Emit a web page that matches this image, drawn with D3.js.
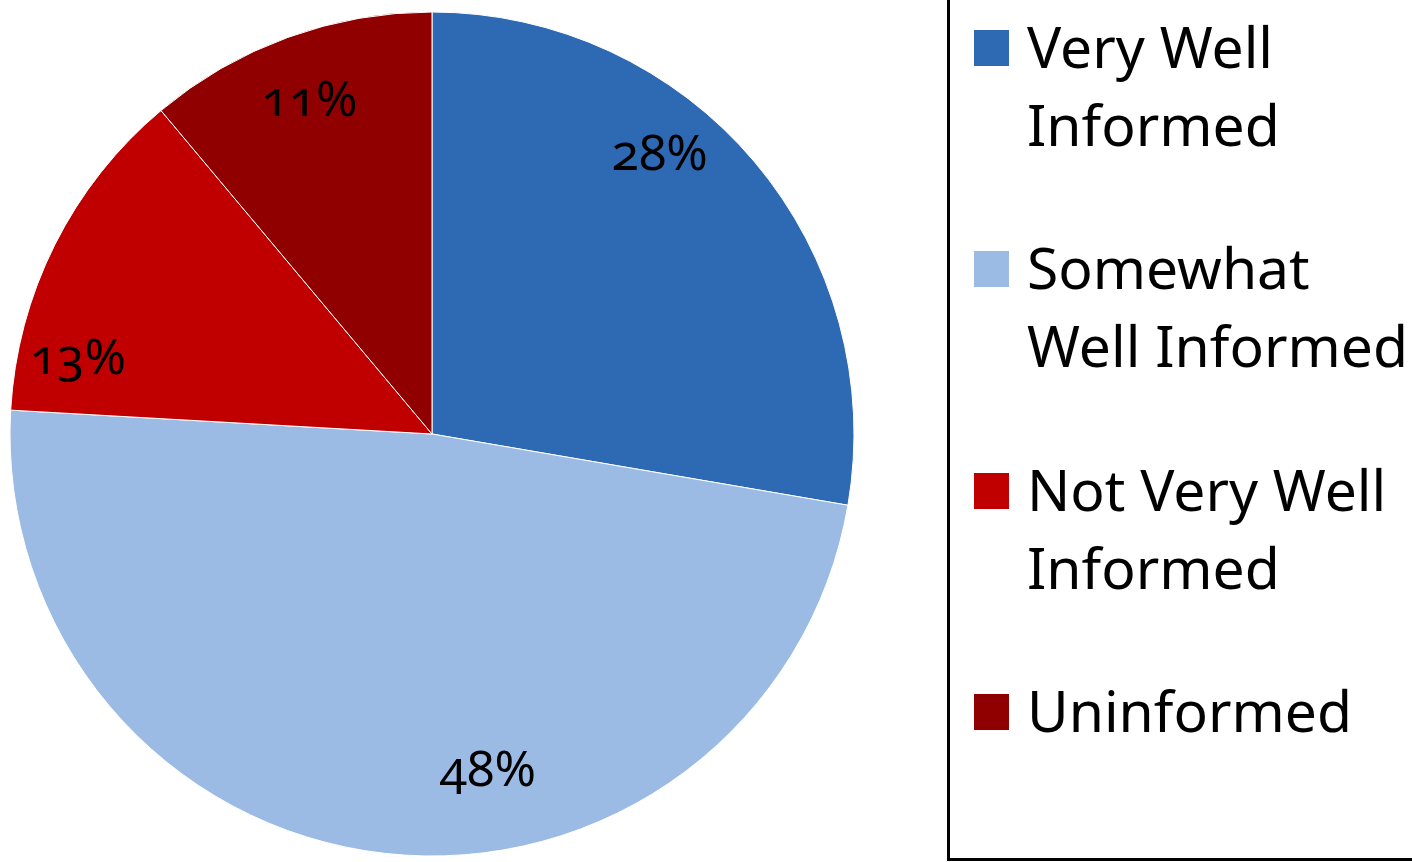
<!DOCTYPE html>
<html>
<head>
<meta charset="utf-8">
<script src="https://cdn.jsdelivr.net/npm/d3@7"></script>
<style>
  html, body { margin: 0; padding: 0; background: #fff; }
  svg { display: block; }
  text { font-family: "Noto Sans", "Open Sans", sans-serif; fill: #000; }
</style>
</head>
<body>
<svg id="chart" width="1412" height="862"></svg>
<script>
// ---- data ----
const categories = ["Very Well Informed", "Somewhat Well Informed", "Not Very Well Informed", "Uninformed"];
const legendLines = [["Very Well", "Informed"], ["Somewhat", "Well Informed"], ["Not Very Well", "Informed"], ["Uninformed"]];
const values = [27.7, 48.2, 13.0, 11.1];
const colors = ["#2E69B4", "#9BBBE4", "#C00000", "#900000"];

// ---- layout ----
const W = 1412, H = 862;
const cx = 432, cy = 434, R = 422;
// label placement: angle shift (deg) from slice mid-angle, radius factor
const labelShift = [-11, -16, -14, 0];
const labelRadius = [0.86, 0.80, 0.86, 0.85];

const svg = d3.select("#chart");
const g = svg.append("g").attr("transform", `translate(${cx},${cy})`);

const pie = d3.pie().sort(null).value(d => d)(values);
const arc = d3.arc().innerRadius(0).outerRadius(R);

g.selectAll("path.slice").data(pie).join("path")
  .attr("class", "slice")
  .attr("d", arc)
  .attr("fill", (d, i) => colors[i])
  .attr("stroke", "#fff")
  .attr("stroke-width", 1);

g.selectAll("text.lbl").data(pie).join("text")
  .attr("class", "lbl")
  .attr("text-anchor", "middle")
  .attr("dominant-baseline", "central")
  .style("font-size", "50px")
  .style("font-variant-numeric", "oldstyle-nums")
  .attr("transform", (d, i) => {
    const a = (d.startAngle + d.endAngle) / 2 + labelShift[i] * Math.PI / 180;
    const [x, y] = d3.pointRadial(a, R * labelRadius[i]);
    return `translate(${x},${y})`;
  })
  .text(d => Math.round(d.value) + "%");

// ---- legend ----
svg.append("rect")
  .attr("x", 948.5).attr("y", -10)
  .attr("width", 600).attr("height", 869.5)
  .attr("fill", "none").attr("stroke", "#000").attr("stroke-width", 3);

const legendTop = [30, 251, 473, 694];
const lineH = 78;
const lg = svg.append("g");
categories.forEach((c, i) => {
  const item = lg.append("g").attr("transform", `translate(974,${legendTop[i]})`);
  item.append("rect").attr("x", 0).attr("y", 0).attr("width", 35).attr("height", 36)
    .attr("fill", colors[i]);
  legendLines[i].forEach((ln, j) => {
    item.append("text")
      .attr("x", 53).attr("y", 38 + j * lineH)
      .style("font-size", "57px")
      .text(ln);
  });
});
</script>
</body>
</html>
